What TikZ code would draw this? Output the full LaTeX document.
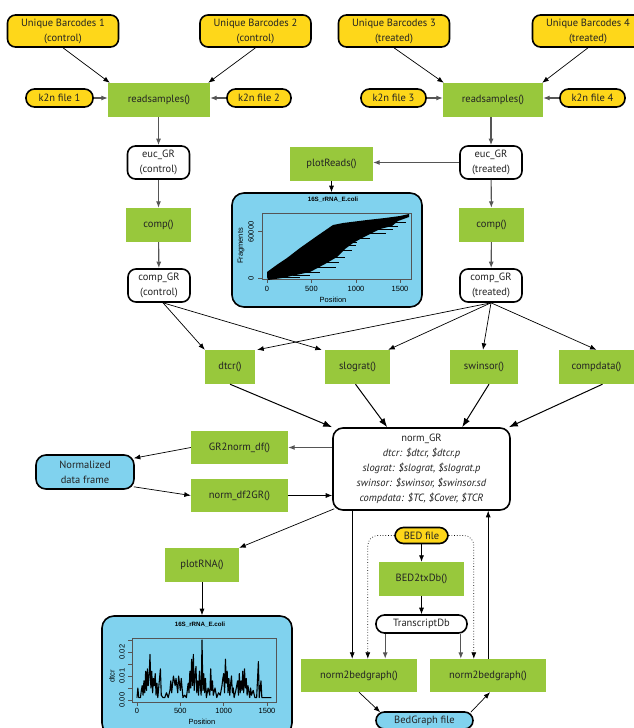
\documentclass[tikz,border=0pt]{standalone}
\usepackage{fontspec}
\setmainfont{PT Sans}
\newfontfamily\plotfont{Liberation Sans}
\usetikzlibrary{arrows.meta,calc}
\definecolor{ylw}{RGB}{254,215,26}
\definecolor{grn}{RGB}{152,200,60}
\definecolor{blu}{RGB}{128,210,238}
\definecolor{txt}{RGB}{35,35,35}
\definecolor{lgray}{RGB}{85,85,85}
\begin{document}
\begin{tikzpicture}[x=1pt,y=-1pt,
  every node/.style={font=\fontsize{10.5}{15}\selectfont, text=txt, inner sep=0pt, align=center},
  gbox/.style={fill=grn, minimum height=34pt},
  ybox/.style={fill=ylw, draw=black, line width=1.6pt, rounded corners=8pt, minimum width=111pt, minimum height=32pt},
  pill/.style={fill=ylw, draw=black, line width=1.6pt, rounded corners=8.5pt, minimum height=18pt},
  wbox/.style={fill=white, draw=black, line width=1.6pt, rounded corners=8pt, minimum width=62pt, minimum height=33pt},
  bbox/.style={fill=blu, draw=black, line width=1.6pt, rounded corners=10pt},
  arr/.style={-{Latex[length=6.5pt,width=5pt]}, line width=0.7pt, black},
  barr/.style={-{Latex[length=9pt,width=6.5pt]}, line width=1pt, black},
  garr/.style={-{Latex[length=6.5pt,width=5pt]}, line width=1.1pt, lgray},
  pl/.style={font=\plotfont\fontsize{7.5}{8}\selectfont, text=black},
  plt/.style={font=\plotfont\bfseries\fontsize{6.2}{7}\selectfont, text=black},
]
\useasboundingbox (0,0) rectangle (634,728);

% ---------- top inputs ----------
\node[ybox] (ub1) at (63,31) {Unique Barcodes 1\\(control)};
\node[ybox] (ub2) at (255.5,31) {Unique Barcodes 2\\(control)};
\node[ybox] (ub3) at (394,31) {Unique Barcodes 3\\(treated)};
\node[ybox] (ub4) at (588,31) {Unique Barcodes 4\\(treated)};
\node[gbox, minimum width=102pt] (rs1) at (159,100) {readsamples()};
\node[gbox, minimum width=100pt] (rs2) at (493,100) {readsamples()};
\node[pill, minimum width=67pt] (k1) at (59.5,98) {k2n file 1};
\node[pill, minimum width=64pt] (k2) at (259,98) {k2n file 2};
\node[pill, minimum width=65pt] (k3) at (393.5,98) {k2n file 3};
\node[pill, minimum width=65pt] (k4) at (592.5,98) {k2n file 4};

% ---------- columns ----------
\node[wbox] (eucc) at (158.5,162.5) {euc\_GR\\(control)};
\node[gbox, minimum width=65pt] (compc) at (158.5,225) {comp()};
\node[wbox] (cgrc) at (159,285.5) {comp\_GR\\(control)};
\node[wbox] (euct) at (491,162.5) {euc\_GR\\(treated)};
\node[gbox, minimum width=65pt] (compt) at (491.5,225) {comp()};
\node[wbox] (cgrt) at (491,285.5) {comp\_GR\\(treated)};
\node[gbox, minimum width=83pt] (pr) at (331.5,164) {plotReads()};
\node[bbox, minimum width=190pt, minimum height=114pt, rounded corners=12pt] (p1) at (327,250) {};

% ---------- functions ----------
\node[gbox, minimum width=50pt] (dtcr) at (230,367) {dtcr()};
\node[gbox, minimum width=65pt] (slog) at (357.5,367) {slograt()};
\node[gbox, minimum width=68pt] (swin) at (484,367) {swinsor()};
\node[gbox, minimum width=75pt] (cdat) at (596.5,367) {compdata()};
\node[wbox, minimum width=177pt, minimum height=82pt, rounded corners=10pt] (ngr) at (421.5,469)
  {norm\_GR\\\textit{dtcr: \$dtcr, \$dtcr.p}\\\textit{slograt: \$slograt, \$slograt.p}\\\textit{swinsor: \$swinsor, \$swinsor.sd}\\\textit{compdata: \$TC, \$Cover, \$TCR}};
\node[gbox, minimum width=97pt, minimum height=33pt] (gr2) at (239.5,447.5) {GR2norm\_df()};
\node[gbox, minimum width=97pt, minimum height=33pt] (n2gr) at (239.5,495.5) {norm\_df2GR()};
\node[bbox, minimum width=98pt, minimum height=34pt] (ndf) at (85,472) {Normalized\\data frame};
\node[gbox, minimum width=74pt] (prna) at (202,565) {plotRNA()};
\node[bbox, minimum width=190pt, minimum height=119pt, rounded corners=12pt] (p2) at (197,675.5) {};
\node[pill, minimum width=53pt, minimum height=16pt] (bed) at (421.5,535.5) {BED file};
\node[gbox, minimum width=85pt] (b2t) at (421.5,579) {BED2txDb()};
\node[pill, fill=white, minimum width=91pt] (tdb) at (421.5,624) {TranscriptDb};
\node[gbox, minimum width=116pt, minimum height=33pt] (nbl) at (359,675.5) {norm2bedgraph()};
\node[gbox, minimum width=116pt, minimum height=33pt] (nbr) at (488,675.5) {norm2bedgraph()};
\node[pill, fill=blu, minimum width=97pt, minimum height=17pt] (bgf) at (424.5,720.5) {BedGraph file};

% ---------- connectors ----------
\draw[arr] (ub1.south) -- ($(rs1.north west)+(2,0)$);
\draw[arr] (ub2.south) -- ($(rs1.north east)+(-2,0)$);
\draw[garr] (k1.east) -- (k1.east -| rs1.west);
\draw[garr] (k2.west) -- (k2.west -| rs1.east);
\draw[arr] (ub3.south) -- ($(rs2.north west)+(1,0)$);
\draw[arr] (ub4.south) -- ($(rs2.north east)+(-1,0)$);
\draw[garr] (k3.east) -- (k3.east -| rs2.west);
\draw[garr] (k4.west) -- (k4.west -| rs2.east);
\draw[garr] (eucc.north |- rs1.south) -- (eucc.north);
\draw[garr] (eucc) -- (compc);
\draw[garr] (compc) -- (cgrc);
\draw[garr] (euct.north |- rs2.south) -- (euct.north);
\draw[garr] (euct) -- (compt);
\draw[garr] (compt) -- (cgrt);
\draw[garr] (euct.west) -- (euct.west -| pr.east);
\draw[arr] (pr.south) -- (pr.south |- p1.north);

\coordinate (cs) at ($(cgrc.south)+(4,0)$);
\draw[arr] (cs) -- (dtcr.north west);
\draw[arr] (cs) -- ($(slog.north west)+(-3,0)$);
\draw[arr] (cgrt.south) -- ($(dtcr.north east)+(2,0)$);
\draw[arr] (cgrt.south) -- ($(slog.north east)+(-2,0)$);
\draw[arr] (cgrt.south) -- ($(swin.north)+(-1,0)$);
\draw[arr] (cgrt.south) -- (cdat.north);

\draw[barr] (dtcr.south) -- (ngr.north west);
\draw[barr] ($(slog.south)+(-2,0)$) -- ($(ngr.north west)+(55,0)$);
\draw[barr] ($(swin.south)+(5,0)$) -- ($(ngr.north west)+(130,0)$);
\draw[barr] ($(cdat.south)+(6,0)$) -- ($(ngr.north east)+(-2,0)$);

\draw[garr] (ngr.west |- gr2.east) -- (gr2.east);
\draw[arr] (gr2.west) -- ($(ndf.north east)+(-1,4)$);
\draw[arr] ($(ndf.south east)+(-1,-3)$) -- (n2gr.west);
\draw[arr] (n2gr.east) -- (n2gr.east -| ngr.west);
\draw[arr] ($(ngr.south west)+(2,-2)$) -- (prna.north east);
\draw[arr] (prna.south) -- (prna.south |- p2.north);

\coordinate (a1) at ($(ngr.south west)+(20,0)$);
\coordinate (a2) at ($(ngr.south west)+(156,0)$);
\draw[arr] (a1) -- (a1 |- nbl.north);
\draw[arr] (a2 |- nbr.north) -- (a2);
\draw[arr] (bed) -- (b2t);
\draw[arr] (b2t) -- (tdb);
\coordinate (t1) at ($(tdb.south west)+(10,0)$);
\coordinate (t2) at ($(tdb.south east)+(-7,0)$);
\draw[garr] (t1) -- (t1 |- nbl.north);
\draw[garr] (t2) -- (t2 |- nbr.north);
\coordinate (d1) at ($(nbl.north west)+(67,0)$);
\coordinate (d2) at ($(nbr.north west)+(44,0)$);
\draw[arr, dotted, rounded corners=10pt] (bed.west) -| (d1);
\draw[arr, dotted, rounded corners=10pt] (bed.east) -| (d2);
\draw[arr] (nbl.south) -- ($(bgf.north west)+(5,1)$);
\draw[arr] ($(bgf.north east)+(-3,1)$) -- ($(nbr.south)+(2,0)$);

% ---------- plot 1 ----------
\node[plt] (p1t) at (333,200) {16S\_rRNA\_E.coli};
\draw[lgray, line width=0.5pt] (262,213) rectangle (411,279);
\foreach \x in {267,311.5,356,400} \draw[lgray, line width=0.5pt] (\x,279) -- (\x,283);
\foreach \y in {278,231} \draw[lgray, line width=0.5pt] (262,\y) -- (258,\y);
\node[pl] at (267,289) {0};
\node[pl] at (311.5,289) {500};
\node[pl] at (356,289) {1000};
\node[pl] at (400,289) {1500};
\node[pl] at (333,300) {Position};
\node[pl, rotate=90] at (251,278) {0};
\node[pl, rotate=90] at (251,232) {60000};
\node[pl, rotate=90] at (241,246) {Fragments};
\fill[black] (267,277) -- (267,272) -- (278,264) -- (287,258) -- (300,248) -- (317,236) -- (333,225)
  -- (343,223) -- (367,220) -- (385,218) -- (400,216) -- (409,214) -- (409,217) -- (398,221)
  -- (392,226) -- (380,229) -- (372,233) -- (362,238) -- (353,243) -- (345,249) -- (337,257)
  -- (325,264) -- (310,272) -- (296,275) -- (282,278) -- (268,280) -- cycle;
\foreach \ya/\xa/\xb in {222/395/406, 226/385/398, 229/378/393, 233/370/386, 238/360/370, 242/352/357, 245/346/356,
  250/340/352, 257/334/345, 262/325/339, 267/316/336, 272/305/320, 275/293/310, 277/282/300}
  \draw[black, line width=0.9pt] (\xa,\ya) -- (\xb,\ya);

% ---------- plot 2 ----------
\node[plt] (p2t) at (200,625) {16S\_rRNA\_E.coli};
\draw[lgray, line width=0.5pt] (132,638) rectangle (276,702);
\foreach \x in {137,180.3,223.7,267} \draw[lgray, line width=0.5pt] (\x,702) -- (\x,706);
\foreach \y in {700,688,676,664,652,640} \draw[lgray, line width=0.5pt] (132,\y) -- (128,\y);
\node[pl] at (137,711) {0};
\node[pl] at (180.3,711) {500};
\node[pl] at (223.7,711) {1000};
\node[pl] at (267,711) {1500};
\node[pl] at (202,722) {Position};
\node[pl, rotate=90] at (122,700) {0.00};
\node[pl, rotate=90] at (122,676) {0.01};
\node[pl, rotate=90] at (122,652) {0.02};
\node[pl, rotate=90] at (112,676) {dtcr};
\begin{scope}[shift={(137,700)}, xscale=0.0867, yscale=-2400]
\draw[black, line width=1.1pt, line join=round] plot coordinates {
(0,0.001) (10,0.005) (20,0.001) (40,0.001) (50,0.004) (60,0.006) (70,0.002) (80,0.008) (90,0.003)
(100,0.012) (110,0.004) (120,0.013) (130,0.006) (140,0.010) (150,0.019) (160,0.005) (170,0.012)
(180,0.003) (190,0.009) (200,0.006) (210,0.011) (220,0.002) (230,0.007) (240,0.001) (260,0.009)
(270,0.013) (280,0.002) (300,0.001) (320,0.001) (340,0.003) (360,0.001) (380,0.004) (390,0.008)
(400,0.003) (420,0.010) (440,0.006) (450,0.009) (470,0.003) (480,0.010) (500,0.004) (510,0.009)
(530,0.001) (550,0.002) (570,0.001) (590,0.007) (600,0.003) (610,0.012) (620,0.005) (630,0.017)
(640,0.006) (650,0.019) (660,0.004) (670,0.010) (680,0.014) (690,0.003) (700,0.008) (710,0.002)
(720,0.012) (730,0.006) (740,0.002) (750,0.025) (760,0.004) (770,0.011) (780,0.003) (790,0.009)
(800,0.001) (820,0.005) (840,0.002) (850,0.013) (860,0.004) (870,0.008) (880,0.002) (900,0.005)
(920,0.001) (940,0.003) (960,0.002) (980,0.006) (990,0.009) (1000,0.011) (1010,0.003) (1020,0.017)
(1030,0.007) (1040,0.012) (1050,0.003) (1060,0.009) (1070,0.002) (1080,0.007) (1090,0.010)
(1100,0.003) (1110,0.005) (1120,0.001) (1140,0.004) (1160,0.008) (1170,0.002) (1180,0.011)
(1190,0.003) (1200,0.008) (1210,0.004) (1220,0.012) (1230,0.003) (1240,0.013) (1250,0.005)
(1260,0.009) (1270,0.002) (1280,0.006) (1300,0.001) (1310,0.005) (1320,0.002) (1340,0.004)
(1360,0.001) (1380,0.001) (1400,0.016) (1410,0.001) (1430,0.008) (1440,0.001) (1460,0.001) (1550,0.001)};
\end{scope}
\end{tikzpicture}
\end{document}
